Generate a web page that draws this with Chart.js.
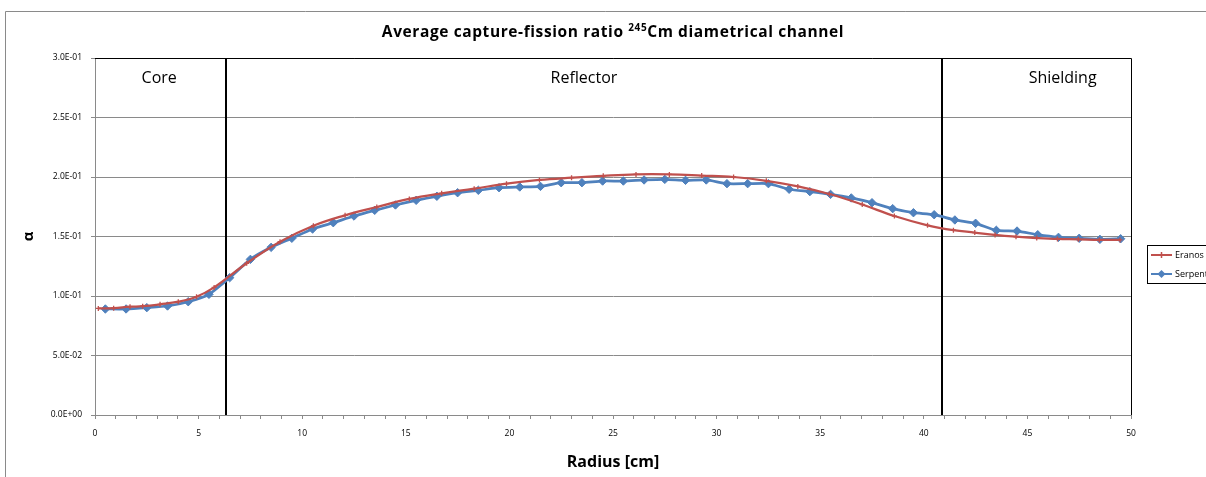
<!DOCTYPE html>
<html>
<head>
<meta charset="utf-8">
<script src="https://cdn.jsdelivr.net/npm/chart.js@4/dist/chart.umd.min.js"></script>
<style>
  body { margin: 0; background: #fff; overflow: hidden; }
  #wrap { width: 1206px; height: 477px; }
</style>
</head>
<body>
<div id="wrap"><canvas id="alpha-chart" width="1206" height="477"></canvas></div>
<script>
// * Data
const eranosR = [0.16, 0.9, 1.69, 2.3, 3.14, 4.02, 4.9, 5.75, 7.32, 8.93, 10.54, 12.07, 13.6, 15.17,
  16.73, 18.3, 19.86, 21.45, 23.0, 24.53, 26.11, 27.72, 29.28, 30.82, 32.4, 33.92, 35.44, 37.03,
  38.58, 40.18, 41.43, 42.46, 43.44, 44.45, 45.45, 46.45, 47.46, 48.47, 49.47];
const eranosAlpha = [0.0896, 0.0898, 0.091, 0.0914, 0.093, 0.0952, 0.0994, 0.1072, 0.1275, 0.1456,
  0.159, 0.1678, 0.1748, 0.1816, 0.1863, 0.1902, 0.1944, 0.1975, 0.1994, 0.201, 0.2022, 0.2022,
  0.2012, 0.2, 0.1968, 0.1921, 0.1857, 0.1769, 0.1672, 0.1594, 0.1553, 0.1533, 0.1513, 0.1498,
  0.1487, 0.1479, 0.1476, 0.1471, 0.1471];

const serpentR = [0.5, 1.5, 2.5, 3.5, 4.5, 5.5, 6.5, 7.5, 8.5, 9.5, 10.5, 11.5, 12.5, 13.5, 14.5,
  15.5, 16.5, 17.5, 18.5, 19.5, 20.5, 21.5, 22.5, 23.5, 24.5, 25.5, 26.5, 27.5, 28.5, 29.5, 30.5,
  31.5, 32.5, 33.5, 34.5, 35.5, 36.5, 37.5, 38.5, 39.5, 40.5, 41.5, 42.5, 43.5, 44.5, 45.5, 46.5,
  47.5, 48.5, 49.5];
const serpentAlpha = [0.0891, 0.0891, 0.0902, 0.0916, 0.0952, 0.1014, 0.1154, 0.1308, 0.1409,
  0.1485, 0.1563, 0.1616, 0.1672, 0.172, 0.1765, 0.1804, 0.1838, 0.1868, 0.1888, 0.191, 0.1916,
  0.1921, 0.1952, 0.1952, 0.1966, 0.1966, 0.1975, 0.198, 0.1972, 0.1975, 0.1944, 0.1944, 0.1944,
  0.1897, 0.1877, 0.1854, 0.1824, 0.1784, 0.1734, 0.17, 0.1683, 0.1639, 0.1611, 0.1552, 0.1546,
  0.1515, 0.1493, 0.1485, 0.1476, 0.1481];

const seriesNames = ["Eranos", "Serpent"];
const seriesColors = ["#C0504D", "#4F81BD"];
const boundaries = [6.3, 40.9];
const regionNames = ["Core", "Reflector", "Shielding"];
const regionLabelR = [3.1, 23.6, 46.7];
const regionLabelAlpha = 0.283;

const FONT = "'Open Sans', 'Liberation Sans', sans-serif";

function sci(v) {
  if (Math.abs(v) < 1e-12) return "0.0E+00";
  let exp = Math.floor(Math.log10(Math.abs(v)) + 1e-9);
  let mant = v / Math.pow(10, exp);
  let e = Math.abs(exp);
  return mant.toFixed(1) + "E" + (exp < 0 ? "-" : "+") + (e < 10 ? "0" + e : e);
}

const toPoints = (xs, ys) => xs.map((x, i) => ({ x: x, y: ys[i] }));

// * Extra drawing: frame, region lines, title, legend
const decor = {
  id: "decor",
  beforeDraw(chart) {
    const ctx = chart.ctx;
    ctx.save();
    ctx.fillStyle = "#fff";
    ctx.fillRect(0, 0, chart.width, chart.height);
    ctx.strokeStyle = "#8a8a8a";
    ctx.lineWidth = 1;
    ctx.beginPath();
    ctx.moveTo(5.5, chart.height);
    ctx.lineTo(5.5, 11.5);
    ctx.lineTo(chart.width, 11.5);
    ctx.stroke();
    ctx.restore();
  },
  beforeDatasetsDraw(chart) {
    const { ctx, chartArea: a, scales } = chart;
    ctx.save();
    ctx.strokeStyle = "#000";
    ctx.lineWidth = 1;
    ctx.beginPath();
    ctx.moveTo(a.left, a.top + 0.5);
    ctx.lineTo(a.right + 0.5, a.top + 0.5);
    ctx.lineTo(a.right + 0.5, a.bottom);
    ctx.stroke();

    ctx.lineWidth = 2;
    boundaries.forEach((b) => {
      const px = Math.round(scales.x.getPixelForValue(b));
      ctx.beginPath();
      ctx.moveTo(px, a.top);
      ctx.lineTo(px, a.bottom);
      ctx.stroke();
    });

    ctx.fillStyle = "#000";
    ctx.font = "16px " + FONT;
    ctx.textAlign = "center";
    ctx.textBaseline = "middle";
    regionNames.forEach((n, i) => {
      ctx.fillText(n, scales.x.getPixelForValue(regionLabelR[i]), scales.y.getPixelForValue(regionLabelAlpha));
    });
    ctx.restore();
  },
  afterDraw(chart) {
    const ctx = chart.ctx;
    ctx.save();
    // title with superscript
    const parts = [
      { t: "Average capture-fission ratio ", f: "bold 15.5px " + FONT, dy: 0 },
      { t: "245", f: "bold 10px " + FONT, dy: -5 },
      { t: "Cm diametrical channel", f: "bold 15.5px " + FONT, dy: 0 },
    ];
    ctx.letterSpacing = "0.6px";
    let total = 0;
    parts.forEach((p) => { ctx.font = p.f; p.w = ctx.measureText(p.t).width; total += p.w; });
    let x = 613 - total / 2;
    ctx.fillStyle = "#000";
    ctx.textBaseline = "middle";
    ctx.textAlign = "left";
    parts.forEach((p) => {
      ctx.font = p.f;
      ctx.fillText(p.t, x, 33 + p.dy);
      x += p.w;
    });
    ctx.letterSpacing = "0px";

    // legend (cut by the right edge as in the reference)
    ctx.strokeStyle = "#000";
    ctx.lineWidth = 1;
    ctx.strokeRect(1147.5, 245.5, 70, 38);
    ctx.font = "9px " + FONT;
    chart.data.datasets.forEach((ds, i) => {
      const y = 255 + i * 19;
      ctx.strokeStyle = ds.borderColor;
      ctx.lineWidth = 2;
      ctx.beginPath();
      ctx.moveTo(1151, y);
      ctx.lineTo(1172, y);
      ctx.stroke();
      ctx.fillStyle = ds.borderColor;
      if (i === 0) {
        ctx.lineWidth = 1.5;
        ctx.beginPath();
        ctx.moveTo(1158.5, y); ctx.lineTo(1164.5, y);
        ctx.moveTo(1161.5, y - 3); ctx.lineTo(1161.5, y + 3);
        ctx.stroke();
      } else {
        ctx.beginPath();
        ctx.moveTo(1161.5, y - 4); ctx.lineTo(1165.5, y); ctx.lineTo(1161.5, y + 4); ctx.lineTo(1157.5, y);
        ctx.closePath();
        ctx.fill();
      }
      ctx.fillStyle = "#000";
      ctx.fillText(ds.label, 1175, y);
    });
    ctx.restore();
  },
};

const ctx = document.getElementById("alpha-chart").getContext("2d");

const alphaChart = new Chart(ctx, {
  type: "line",
  data: {
    datasets: [
      {
        label: seriesNames[0],
        data: toPoints(eranosR, eranosAlpha),
        borderColor: seriesColors[0],
        backgroundColor: seriesColors[0],
        borderWidth: 2.25,
        pointStyle: "cross",
        pointRadius: 2.5,
        pointBorderWidth: 1.3,
        tension: 0.4,
      },
      {
        label: seriesNames[1],
        data: toPoints(serpentR, serpentAlpha),
        borderColor: seriesColors[1],
        backgroundColor: seriesColors[1],
        borderWidth: 2.75,
        pointStyle: "rectRot",
        pointRadius: 4.2,
        pointBorderWidth: 1,
        tension: 0.2,
      },
    ],
  },
  options: {
    responsive: false,
    animation: false,
    devicePixelRatio: 1,
    layout: { padding: { left: 0, top: 58, right: 75, bottom: 0 } },
    plugins: {
      legend: { display: false },
      title: { display: false },
      tooltip: { enabled: false },
    },
    scales: {
      x: {
        type: "linear",
        min: 0,
        max: 50,
        afterFit: (s) => { s.height = 62; },
        ticks: {
          stepSize: 1,
          autoSkip: false,
          maxRotation: 0,
          padding: 9,
          color: "#000",
          font: { family: FONT, size: 8.5 },
          callback: (v) => (v % 5 === 0 ? v : ""),
        },
        grid: { drawOnChartArea: false, drawTicks: true, tickLength: 4, color: "#8a8a8a" },
        border: { color: "#8a8a8a" },
        title: {
          display: true,
          text: "Radius [cm]",
          color: "#000",
          font: { family: FONT, size: 16, weight: "bold" },
          padding: { bottom: 5 },
        },
      },
      y: {
        min: 0,
        max: 0.3,
        afterFit: (s) => { s.width = 95; },
        ticks: {
          stepSize: 0.05,
          padding: 9,
          color: "#000",
          font: { family: FONT, size: 8.5 },
          callback: (v) => sci(v),
        },
        grid: { color: "#8a8a8a", tickLength: 4 },
        border: { color: "#8a8a8a" },
        title: {
          display: true,
          text: "α",
          color: "#000",
          font: { family: FONT, size: 15, weight: "bold" },
          padding: { top: 20 },
        },
      },
    },
  },
  plugins: [decor],
});
</script>
</body>
</html>
